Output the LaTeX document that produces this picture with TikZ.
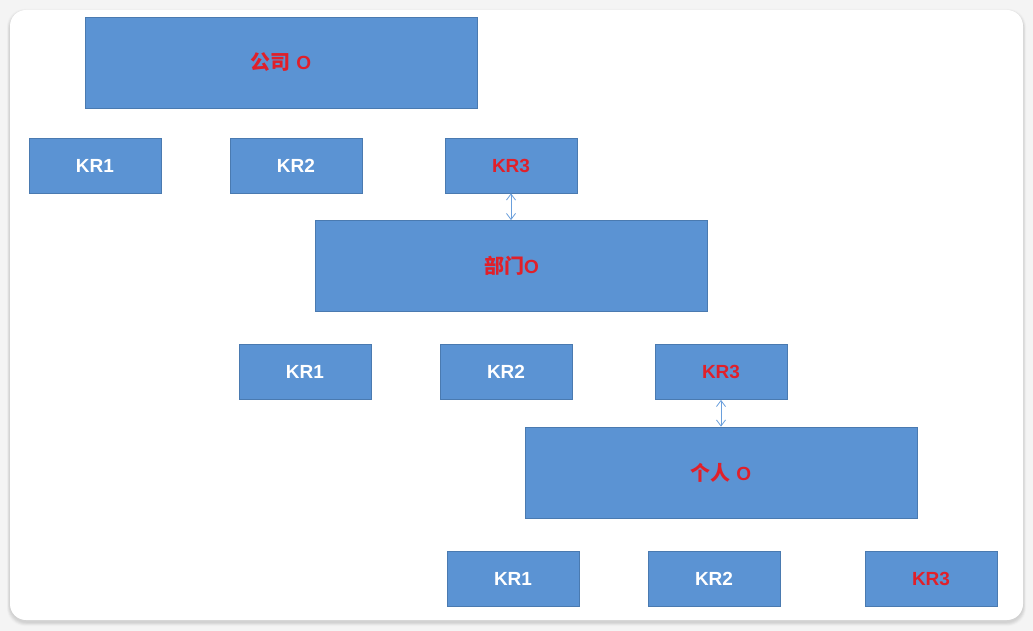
\documentclass[tikz,border=0pt]{standalone}
\usepackage{fontspec}
\setmainfont{Liberation Sans}
\newfontfamily\cjk{Noto Sans CJK SC}
\usetikzlibrary{arrows.meta}
\definecolor{boxfill}{HTML}{5B93D3}
\definecolor{boxline}{HTML}{4A7AB0}
\definecolor{redtxt}{HTML}{E0202A}
\definecolor{arrowc}{HTML}{6A9FDC}
\definecolor{bg}{HTML}{F4F4F4}
\tikzset{
  obox/.style={draw=boxline, line width=0.8pt, fill=boxfill, minimum width=392pt, minimum height=91pt, inner sep=0pt, font=\bfseries\fontsize{19pt}{21pt}\selectfont, text=redtxt},
  krbox/.style={draw=boxline, line width=0.8pt, fill=boxfill, minimum width=132pt, minimum height=55pt, inner sep=0pt, font=\bfseries\fontsize{19pt}{21pt}\selectfont, text=white},
  redkr/.style={krbox, text=redtxt},
  link/.style={draw=arrowc, line width=0.8pt, {Straight Barb[length=6pt,width=9pt]}-{Straight Barb[length=6pt,width=9pt]}}
}
\begin{document}
\begin{tikzpicture}[x=1pt,y=-1pt]
\useasboundingbox (0,0) rectangle (1033,631);
\fill[bg] (0,0) rectangle (1033,631);
\foreach \i/\c in {5/F0F0F0,4/E8E8E8,3/E0E0E0,2/D8D8D8,1/D2D2D2}{
  \definecolor{sh}{HTML}{\c}
  \fill[sh, rounded corners=18pt] (10-\i*0.6,12-\i*0.6) rectangle (1023+\i*0.6,622+\i*0.8);
}
\fill[white, rounded corners=16pt] (10,10) rectangle (1023,620);

\node[obox] (co) at (281,62.5) {{\cjk\bfseries\fontsize{20pt}{22pt}\selectfont 公司} O};
\node[krbox] (c1) at (95,165.5) {KR1};
\node[krbox] (c2) at (296,165.5) {KR2};
\node[redkr] (c3) at (511,165.5) {KR3};

\node[obox] (do) at (511.5,266) {{\cjk\bfseries\fontsize{20pt}{22pt}\selectfont 部门}O};
\node[krbox] (d1) at (305,372) {KR1};
\node[krbox] (d2) at (506,372) {KR2};
\node[redkr] (d3) at (721,372) {KR3};

\node[obox] (po) at (721,472.5) {{\cjk\bfseries\fontsize{20pt}{22pt}\selectfont 个人} O};
\node[krbox] (p1) at (513,578.5) {KR1};
\node[krbox] (p2) at (714,578.5) {KR2};
\node[redkr] (p3) at (931,578.5) {KR3};

\draw[link] (c3.south) -- (c3.south |- do.north);
\draw[link] (d3.south) -- (d3.south |- po.north);
\end{tikzpicture}
\end{document}
